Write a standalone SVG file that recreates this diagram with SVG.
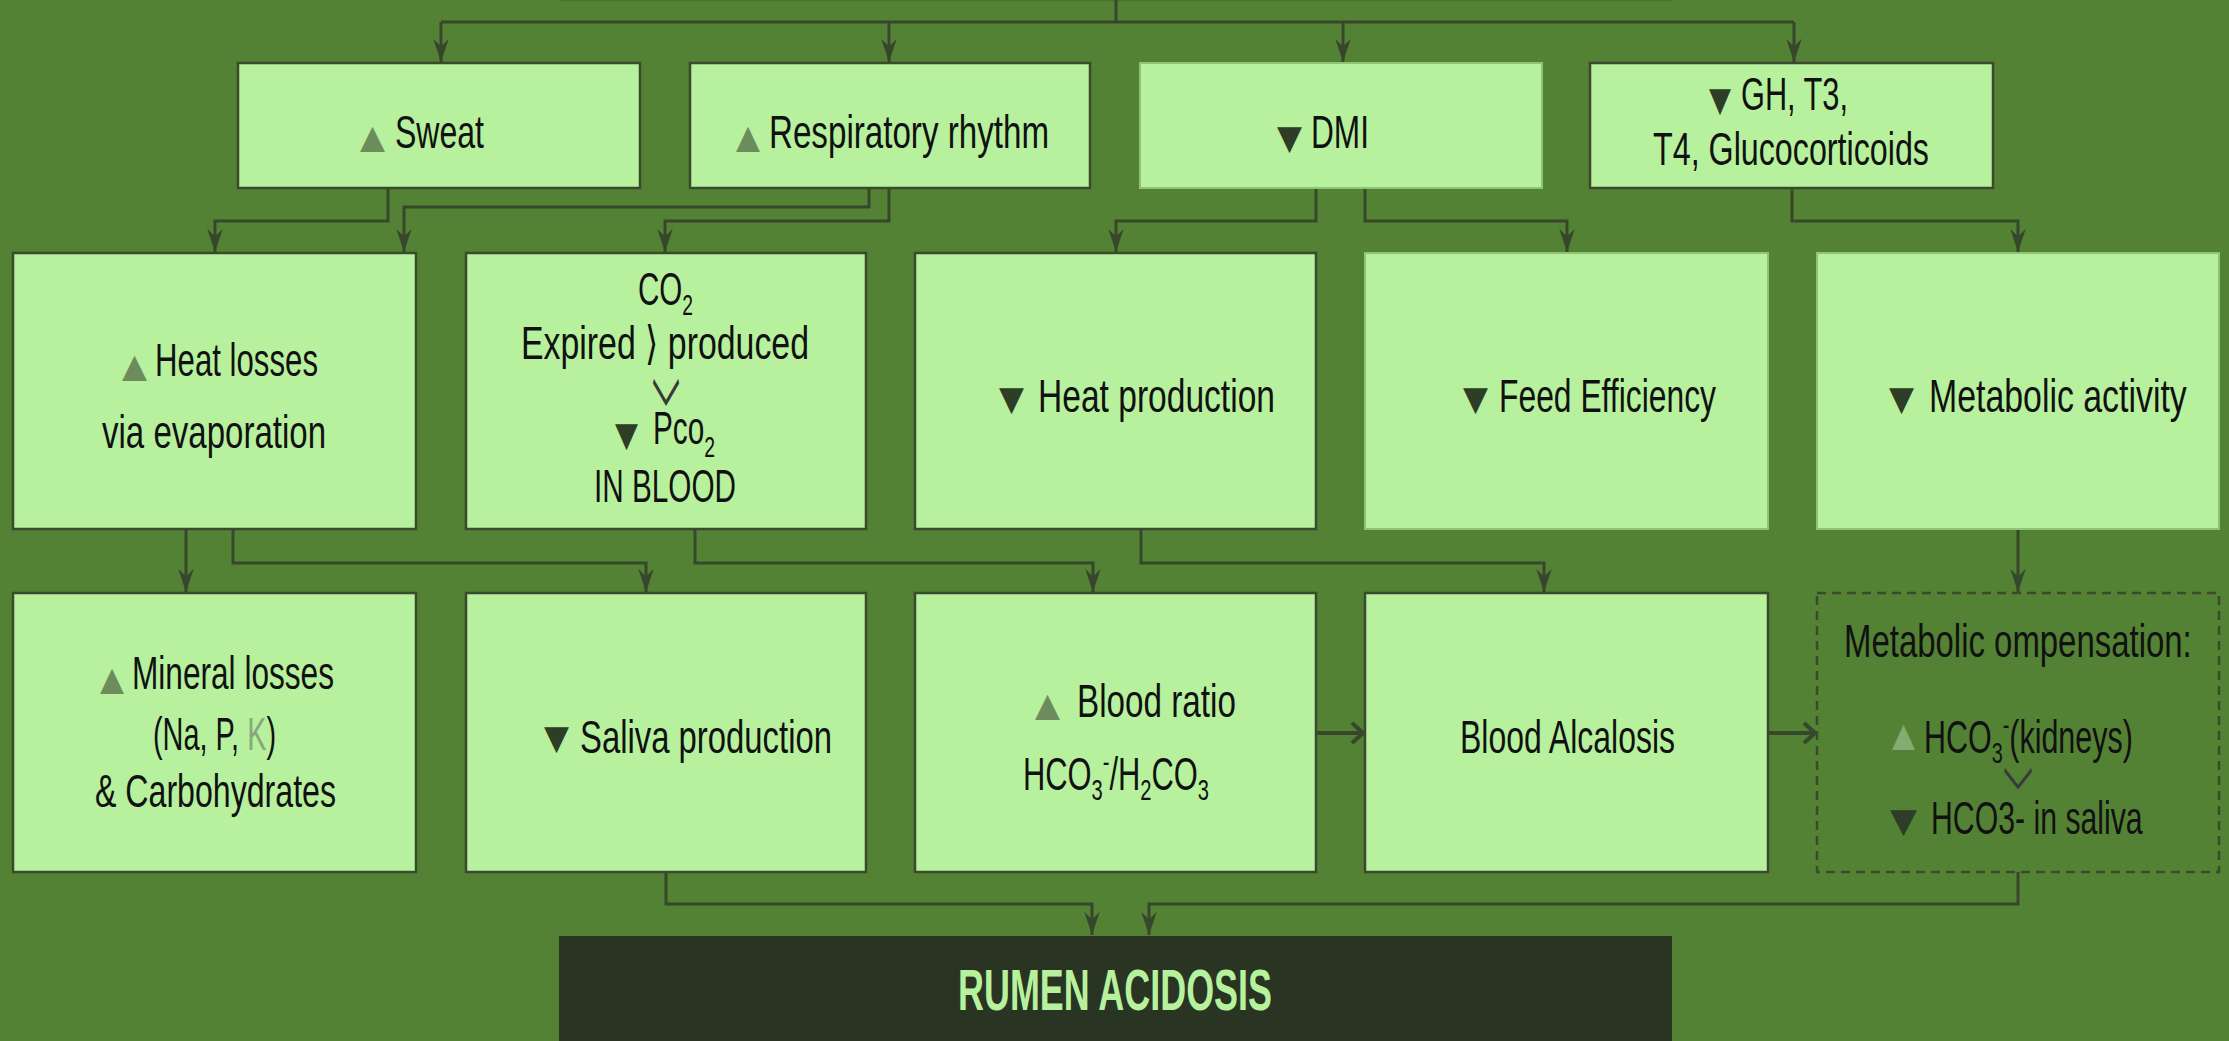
<svg xmlns="http://www.w3.org/2000/svg" width="2229" height="1041" viewBox="0 0 2229 1041">
<defs>
<style>
.bg{fill:#548235}
.box{fill:#b7f19d;stroke:#3a4a2f;stroke-width:2.5}
.soft{fill:#b7f19d;stroke:#8fc474;stroke-width:2}
.dash{fill:none;stroke:#3a4a2f;stroke-width:2.5;stroke-dasharray:9 6}
.dark{fill:#2a3423}
.t{font-family:"Liberation Sans Narrow","Liberation Sans",Arial,sans-serif;font-size:46px;fill:#111}
.sm{font-size:30px}
.up{font-family:"DejaVu Sans",sans-serif;font-size:33px;fill:#6d8c5c}
.up2{font-family:"DejaVu Sans",sans-serif;font-size:33px;fill:#84ab70}
.dn{font-family:"DejaVu Sans",sans-serif;font-size:34px;fill:#2e3d25}
.chev{font-family:"Noto Sans CJK SC","Noto Sans CJK JP",sans-serif;font-size:40px;fill:#3a3a3a}
.gray{fill:#8aa77c}
.big{font-family:"Liberation Sans Narrow","Liberation Sans",Arial,sans-serif;font-size:57px;font-weight:bold;fill:#b7f19d}
.c{fill:none;stroke:#36472c;stroke-width:3}
.h{fill:none;stroke:#36472c;stroke-width:4}
</style>
<marker id="ar" markerUnits="userSpaceOnUse" markerWidth="30" markerHeight="20" viewBox="-22 -9 24 18" refX="0" refY="0" orient="auto">
<path d="M0,0 L-21,-7 L-14,0 L-21,7 Z" fill="#36472c"/>
</marker>
<marker id="oa" markerUnits="userSpaceOnUse" markerWidth="20" markerHeight="26" viewBox="-14 -13 16 26" refX="0" refY="0" orient="auto">
<path d="M-11,-10 L0,0 L-11,10" fill="none" stroke="#36472c" stroke-width="4"/>
</marker>
</defs>
<rect class="bg" x="0" y="0" width="2229" height="1041"/>
<line x1="560" y1="0.5" x2="1672" y2="0.5" stroke="#4a7030" stroke-width="1.5"/>

<g id="connectors">
<path class="c" d="M1116,0 V22"/>
<path class="c" d="M441,22 H1794"/>
<path class="c" d="M441,22 V62" marker-end="url(#ar)"/>
<path class="c" d="M889,22 V62" marker-end="url(#ar)"/>
<path class="c" d="M1343,22 V62" marker-end="url(#ar)"/>
<path class="c" d="M1794,22 V62" marker-end="url(#ar)"/>
<path class="c" d="M388,188 V221 H215 V252" marker-end="url(#ar)"/>
<path class="c" d="M869,188 V207 H404 V252" marker-end="url(#ar)"/>
<path class="c" d="M889,188 V221 H665 V252" marker-end="url(#ar)"/>
<path class="c" d="M1316,188 V221 H1116 V252" marker-end="url(#ar)"/>
<path class="c" d="M1365,188 V221 H1567 V252" marker-end="url(#ar)"/>
<path class="c" d="M1792,188 V221 H2018 V252" marker-end="url(#ar)"/>
<path class="c" d="M186,529 V592" marker-end="url(#ar)"/>
<path class="c" d="M233,529 V563 H646 V592" marker-end="url(#ar)"/>
<path class="c" d="M695,529 V563 H1093 V592" marker-end="url(#ar)"/>
<path class="c" d="M1141,529 V563 H1544 V592" marker-end="url(#ar)"/>
<path class="c" d="M2018,529 V592" marker-end="url(#ar)"/>
<path class="h" d="M1316,733 H1363" marker-end="url(#oa)"/>
<path class="h" d="M1768,733 H1815" marker-end="url(#oa)"/>
<path class="c" d="M666,872 V904 H1092 V935" marker-end="url(#ar)"/>
<path class="c" d="M2018,872 V904 H1149 V935" marker-end="url(#ar)"/>
</g>

<g id="sweat">
<rect class="box" x="238" y="63" width="402" height="125"/>
<text class="up" x="360" y="148" textLength="25" lengthAdjust="spacingAndGlyphs">▲</text>
<text class="t" x="395" y="148" textLength="89" lengthAdjust="spacingAndGlyphs">Sweat</text>
</g>
<g id="respiratory">
<rect class="box" x="690" y="63" width="400" height="125"/>
<text class="up" x="736" y="148" textLength="24" lengthAdjust="spacingAndGlyphs">▲</text>
<text class="t" x="769" y="148" textLength="280" lengthAdjust="spacingAndGlyphs">Respiratory rhythm</text>
</g>
<g id="dmi">
<rect class="soft" x="1140" y="63" width="402" height="125"/>
<text class="dn" x="1277" y="149" textLength="25" lengthAdjust="spacingAndGlyphs">▼</text>
<text class="t" x="1311" y="148" textLength="58" lengthAdjust="spacingAndGlyphs">DMI</text>
</g>
<g id="hormones">
<rect class="box" x="1590" y="63" width="403" height="125"/>
<text class="dn" x="1709" y="111" textLength="22" lengthAdjust="spacingAndGlyphs">▼</text>
<text class="t" x="1741" y="110" textLength="107" lengthAdjust="spacingAndGlyphs">GH, T3,</text>
<text class="t" x="1653" y="165" textLength="276" lengthAdjust="spacingAndGlyphs">T4, Glucocorticoids</text>
</g>

<g id="heat-losses">
<rect class="box" x="13" y="253" width="403" height="276"/>
<text class="up" x="122" y="377" textLength="25" lengthAdjust="spacingAndGlyphs">▲</text>
<text class="t" x="155" y="376" textLength="163" lengthAdjust="spacingAndGlyphs">Heat losses</text>
<text class="t" x="102" y="448" textLength="224" lengthAdjust="spacingAndGlyphs">via evaporation</text>
</g>
<g id="co2">
<rect class="box" x="466" y="253" width="400" height="276"/>
<text class="t" x="638" y="305" textLength="55" lengthAdjust="spacingAndGlyphs">CO<tspan class="sm" dy="10">2</tspan></text>
<text class="t" x="521" y="359" textLength="288" lengthAdjust="spacingAndGlyphs">Expired ⟩ produced</text>
<text class="chev" transform="translate(666,442) scale(0.7,1.9)" x="0" y="0" text-anchor="middle">﹀</text>
<text class="dn" x="615" y="446" textLength="23" lengthAdjust="spacingAndGlyphs">▼</text>
<text class="t" x="653" y="444" textLength="62" lengthAdjust="spacingAndGlyphs">Pco<tspan class="sm" dy="13">2</tspan></text>
<text class="t" x="594" y="502" textLength="142" lengthAdjust="spacingAndGlyphs">IN BLOOD</text>
</g>
<g id="heat-production">
<rect class="box" x="915" y="253" width="401" height="276"/>
<text class="dn" x="999" y="410" textLength="25" lengthAdjust="spacingAndGlyphs">▼</text>
<text class="t" x="1038" y="412" textLength="237" lengthAdjust="spacingAndGlyphs">Heat production</text>
</g>
<g id="feed-efficiency">
<rect class="soft" x="1365" y="253" width="403" height="276"/>
<text class="dn" x="1463" y="410" textLength="25" lengthAdjust="spacingAndGlyphs">▼</text>
<text class="t" x="1499" y="412" textLength="217" lengthAdjust="spacingAndGlyphs">Feed Efficiency</text>
</g>
<g id="metabolic-activity">
<rect class="soft" x="1817" y="253" width="402" height="276"/>
<text class="dn" x="1889" y="410" textLength="25" lengthAdjust="spacingAndGlyphs">▼</text>
<text class="t" transform="translate(1929,412) scale(0.72,1)" x="0" y="0" textLength="358" lengthAdjust="spacingAndGlyphs">Metabolic activity</text>
</g>

<g id="mineral-losses">
<rect class="box" x="13" y="593" width="403" height="279"/>
<text class="up" x="100" y="690" textLength="24" lengthAdjust="spacingAndGlyphs">▲</text>
<text class="t" x="132" y="689" textLength="202" lengthAdjust="spacingAndGlyphs">Mineral losses</text>
<text class="t" x="153" y="750" textLength="123" lengthAdjust="spacingAndGlyphs">(Na, P, <tspan class="gray">K</tspan>)</text>
<text class="t" x="95" y="807" textLength="241" lengthAdjust="spacingAndGlyphs">&amp; Carbohydrates</text>
</g>
<g id="saliva">
<rect class="box" x="466" y="593" width="400" height="279"/>
<text class="dn" x="544" y="749" textLength="25" lengthAdjust="spacingAndGlyphs">▼</text>
<text class="t" x="580" y="753" textLength="252" lengthAdjust="spacingAndGlyphs">Saliva production</text>
</g>
<g id="blood-ratio">
<rect class="box" x="915" y="593" width="401" height="279"/>
<text class="up" x="1035" y="716" textLength="25" lengthAdjust="spacingAndGlyphs">▲</text>
<text class="t" x="1077" y="717" textLength="159" lengthAdjust="spacingAndGlyphs">Blood ratio</text>
<text class="t" x="1023" y="790" textLength="186" lengthAdjust="spacingAndGlyphs">HCO<tspan class="sm" dy="10">3</tspan><tspan class="sm" dy="-28">-</tspan><tspan dy="18">/H</tspan><tspan class="sm" dy="10">2</tspan><tspan dy="-10">CO</tspan><tspan class="sm" dy="10">3</tspan></text>
</g>
<g id="blood-alcalosis">
<rect class="box" x="1365" y="593" width="403" height="279"/>
<text class="t" x="1460" y="753" textLength="215" lengthAdjust="spacingAndGlyphs">Blood Alcalosis</text>
</g>
<g id="compensation">
<rect class="dash" x="1817" y="593" width="402" height="279"/>
<text class="t" transform="translate(1844,657) scale(0.72,1)" x="0" y="0" textLength="483" lengthAdjust="spacingAndGlyphs">Metabolic ompensation:</text>
<text class="up2" x="1892" y="746" textLength="23" lengthAdjust="spacingAndGlyphs">▲</text>
<text class="t" transform="translate(1924,753) scale(0.72,1)" x="0" y="0" textLength="290" lengthAdjust="spacingAndGlyphs">HCO<tspan class="sm" dy="10">3</tspan><tspan class="sm" dy="-28">-</tspan><tspan dy="18">(kidneys)</tspan></text>
<text class="chev" transform="translate(2018,818) scale(0.75,1.5)" x="0" y="0" text-anchor="middle">﹀</text>
<text class="dn" x="1890" y="832" textLength="27" lengthAdjust="spacingAndGlyphs">▼</text>
<text class="t" transform="translate(1931,834) scale(0.72,1)" x="0" y="0" textLength="294" lengthAdjust="spacingAndGlyphs">HCO3- in saliva</text>
</g>

<g id="rumen-acidosis">
<rect class="dark" x="559" y="936" width="1113" height="110"/>
<text class="big" x="1115" y="1010" text-anchor="middle" textLength="314" lengthAdjust="spacingAndGlyphs">RUMEN ACIDOSIS</text>
</g>
</svg>
